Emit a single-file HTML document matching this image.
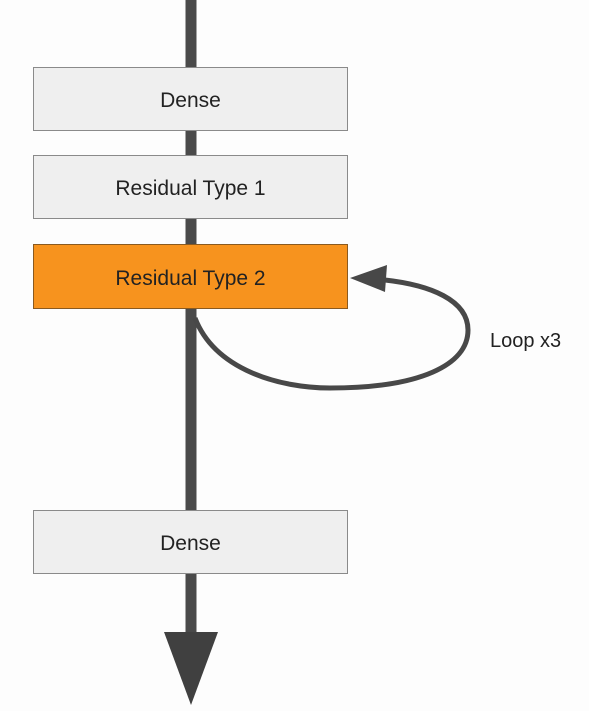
<!DOCTYPE html>
<html><head><style>
body{margin:0;background:#fdfdfd;}
.b{position:absolute;left:33px;width:315px;height:64px;background:#efefef;border:1px solid #8a8a8a;box-sizing:border-box;display:flex;align-items:center;justify-content:center;padding-top:4px;font-family:"Liberation Sans",sans-serif;font-size:21px;color:#222;}
</style></head><body>
<div style="position:relative;width:589px;height:711px;overflow:hidden">
<svg width="589" height="711" style="position:absolute;left:0;top:0">
<rect x="185.5" y="0" width="11" height="640" fill="#4a4a4a"/>
<polygon points="164,632 218,632 191,705" fill="#404040"/>
<path d="M195,318 C215,370 280,388 330,388 C420,388 468,365 468,330 C468,300 430,285 385,280" fill="none" stroke="#484848" stroke-width="5"/>
<polygon points="350,278 387,265 385,292" fill="#484848"/>
<text x="490" y="347" font-family="Liberation Sans,sans-serif" font-size="20" fill="#222">Loop x3</text>
</svg>
<div class="b" style="top:67px">Dense</div>
<div class="b" style="top:155px">Residual Type 1</div>
<div class="b" style="top:244px;height:65px;background:#f7931e;border-color:#8a5a20">Residual Type 2</div>
<div class="b" style="top:510px">Dense</div>
</div>
</body></html>
